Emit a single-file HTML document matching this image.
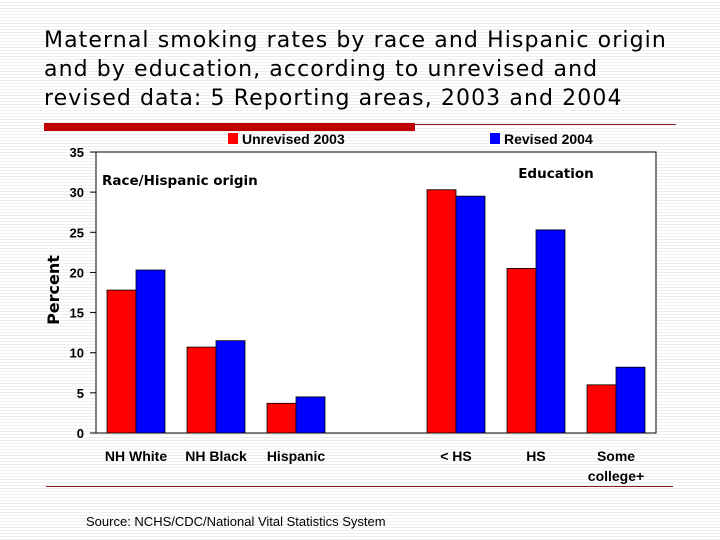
<!DOCTYPE html>
<html><head><meta charset="utf-8"><style>
body{margin:0;width:720px;height:540px;overflow:hidden;background:#fff;
background-image:repeating-linear-gradient(to bottom,#fff 0,#fff 2px,#efefef 2px,#efefef 3px);
font-family:"Liberation Sans",sans-serif;position:relative}
#title{position:absolute;left:44px;top:26px;font-family:"DejaVu Sans",sans-serif;font-size:22px;line-height:29px;letter-spacing:1.1px;color:#000;white-space:nowrap}
#src{position:absolute;left:86px;top:514px;font-size:13px;color:#000}
</style></head><body>
<div id="title">Maternal smoking rates by race and Hispanic origin<br>and by education, according to unrevised and<br>revised data: 5 Reporting areas, 2003 and 2004</div>
<svg id="chart" width="720" height="540" style="position:absolute;left:0;top:0"></svg>
<div id="src">Source: NCHS/CDC/National Vital Statistics System</div>
<script>
const categories=["NH White","NH Black","Hispanic","","< HS","HS","Some|college+"];
const unrevised=[17.8,10.7,3.7,null,30.3,20.5,6.0];
const revised=[20.3,11.5,4.5,null,29.5,25.3,8.2];
const ticks=[0,5,10,15,20,25,30,35];
const svg=document.getElementById('chart');const NS='http://www.w3.org/2000/svg';
const x0=96,x1=656,y0=433,y1=152,yMax=35;
const yS=v=>y0-(v/yMax)*(y0-y1);
const slot=(x1-x0)/categories.length;
function mk(t,a,txt){const e=document.createElementNS(NS,t);for(const k in a)e.setAttribute(k,a[k]);if(txt!==undefined)e.textContent=txt;svg.appendChild(e);return e;}
let e;
e=mk('rect',{x:44,y:123,width:371,height:8,fill:'#c00000'});

e=mk('line',{x1:415,y1:124.5,x2:676,y2:124.5,stroke:'#8b2020','stroke-width':1});

e=mk('line',{x1:46,y1:486.5,x2:673,y2:486.5,stroke:'#8b2020','stroke-width':1});

e=mk('rect',{x:x0,y:y1,width:x1-x0,height:y0-y1,fill:'#fff',stroke:'#000','stroke-width':1});

ticks.forEach(t=>{
 e=mk('line',{x1:x0-6,y1:yS(t),x2:x0,y2:yS(t),stroke:'#000'});
 
 e=mk('text',{x:84,y:yS(t)+5,'text-anchor':'end','font-size':13,'font-weight':'bold'},t);
 
});
categories.forEach((c,i)=>{
 const cx=x0+slot*(i+0.5);
 if(unrevised[i]!=null){
  e=mk('rect',{x:cx-29,y:yS(unrevised[i]),width:29,height:y0-yS(unrevised[i]),fill:'#ff0000',stroke:'#000','stroke-width':0.8});
  
 }
 if(revised[i]!=null){
  e=mk('rect',{x:cx,y:yS(revised[i]),width:29,height:y0-yS(revised[i]),fill:'#0000ff',stroke:'#000','stroke-width':0.8});
  
 }
 c.split('|').forEach((ln,k)=>{
  if(!ln)return;
  e=mk('text',{x:cx,y:461+k*20,'text-anchor':'middle','font-size':14,'font-weight':'bold'},ln);
  
 });
});
e=mk('text',{x:0,y:0,transform:'translate(59,290) rotate(-90)','text-anchor':'middle','font-size':16,'font-weight':'bold','font-family':'DejaVu Sans'},'Percent');

e=mk('text',{x:102,y:185,'font-size':13.5,'font-weight':'bold','font-family':'DejaVu Sans'},'Race/Hispanic origin');

e=mk('text',{x:556,y:178,'text-anchor':'middle','font-size':13.5,'font-weight':'bold','font-family':'DejaVu Sans'},'Education');

e=mk('rect',{x:228,y:133,width:10,height:11,fill:'#ff0000'});

e=mk('text',{x:242,y:144,'font-size':14,'font-weight':'bold'},'Unrevised  2003');

e=mk('rect',{x:490,y:133,width:10,height:11,fill:'#0000ff'});

e=mk('text',{x:504,y:144,'font-size':14,'font-weight':'bold'},'Revised 2004');

</script>
</body></html>
